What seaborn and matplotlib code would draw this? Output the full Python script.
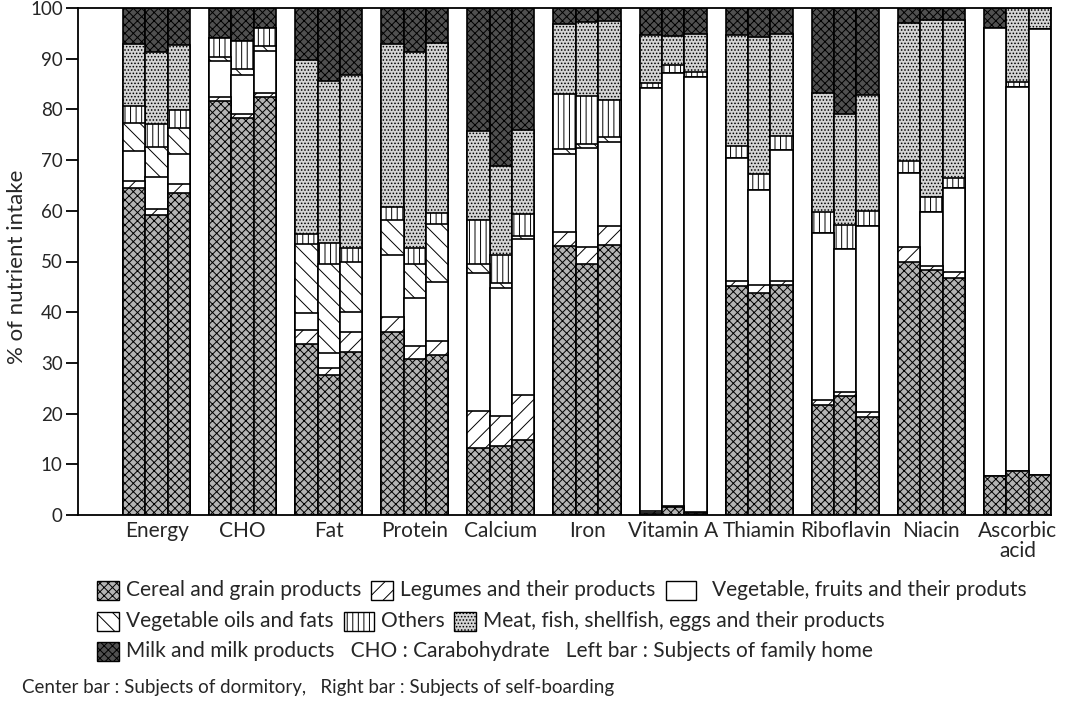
import numpy as np
import pandas as pd
import matplotlib
matplotlib.use("Agg")
import matplotlib.pyplot as plt
from matplotlib.patches import Rectangle
import seaborn as sns

# ---------------- data ----------------
nutrients = ["Energy", "CHO", "Fat", "Protein", "Calcium", "Iron", "Vitamin A",
             "Thiamin", "Riboflavin", "Niacin", "Ascorbic\nacid"]
groups = ["Left", "Center", "Right"]

# each list: 11 nutrients x 3 bars (left, center, right), % of intake
cereal = [64.5, 59.1, 63.5,  81.6, 78.3, 82.4,  33.7, 27.6, 32.2,  36.1, 30.8, 31.6,
          13.3, 13.6, 14.8,  53.0, 49.5, 53.2,  0.3, 1.5, 0.3,  45.1, 43.7, 45.4,
          21.7, 23.4, 19.4,  49.9, 48.3, 46.7,  7.6, 8.7, 7.9]
legumes = [1.3, 1.2, 1.8,  0.8, 0.8, 0.8,  2.7, 1.3, 3.9,  2.9, 2.6, 2.7,
           7.2, 6.0, 8.8,  2.8, 3.3, 3.8,  0.5, 0.2, 0.3,  1.1, 1.7, 0.8,
           1.0, 0.8, 1.0,  2.9, 0.8, 1.3,  0.0, 0.0, 0.0]
vegfruit = [6.0, 6.3, 5.9,  7.1, 7.7, 8.4,  3.5, 3.0, 4.0,  12.2, 9.4, 11.6,
            27.2, 25.1, 30.9,  15.5, 19.6, 16.6,  83.5, 85.5, 85.8,  24.3, 18.7, 25.8,
            33.0, 28.3, 36.7,  14.7, 10.6, 16.5,  88.4, 75.8, 87.9]
vegoils = [5.5, 5.9, 5.2,  0.8, 1.2, 1.0,  13.6, 17.6, 9.8,  7.0, 6.7, 11.5,
           1.8, 1.1, 0.6,  0.8, 0.8, 0.9,  0.0, 0.0, 0.0,  0.0, 0.0, 0.0,
           0.0, 0.0, 0.0,  0.0, 0.0, 0.0,  0.0, 0.0, 0.0]
others = [3.3, 4.6, 3.5,  3.7, 5.4, 3.5,  2.0, 4.1, 2.7,  2.5, 3.1, 2.1,
          8.7, 5.4, 4.2,  10.9, 9.4, 7.3,  0.9, 1.6, 1.0,  2.2, 3.1, 2.8,
          4.0, 4.7, 2.8,  2.4, 3.1, 1.9,  0.0, 1.0, 0.0]
meat = [12.3, 14.2, 12.9,  0.0, 0.0, 0.0,  34.3, 32.1, 34.2,  32.2, 38.8, 33.5,
        17.5, 17.6, 16.7,  13.9, 14.6, 15.6,  9.5, 5.7, 7.5,  22.0, 27.1, 20.1,
        23.5, 21.9, 22.9,  27.1, 34.8, 31.2,  0.0, 14.5, 4.2]
milk = [7.1, 8.7, 7.2,  6.0, 6.6, 3.9,  10.2, 14.3, 13.2,  7.1, 8.6, 7.0,
        24.3, 31.2, 24.0,  3.1, 2.8, 2.6,  5.3, 5.5, 5.1,  5.3, 5.7, 5.1,
        16.8, 20.9, 17.2,  3.0, 2.4, 2.4,  4.0, 0.0, 0.0]

layer_names = ["cereal", "legumes", "vegfruit", "vegoils", "others", "meat", "milk"]
layer_vals = [cereal, legumes, vegfruit, vegoils, others, meat, milk]

legend_rows = [
    [("cereal", "Cereal and grain products"), ("legumes", "Legumes and their products"),
     ("vegfruit", "Vegetable, fruits and their produts")],
    [("vegoils", "Vegetable oils and fats"), ("others", "Others"),
     ("meat", "Meat, fish, shellfish, eggs and their products")],
    [("milk", "Milk and milk products   CHO : Carabohydrate   Left bar : Subjects of family home")],
]
note_line = "Center bar : Subjects of dormitory,   Right bar : Subjects of self-boarding"

# ---------------- styles ----------------
styles = {
    "cereal":   dict(face="#b4b4b4", hatch="xxxx"),
    "legumes":  dict(face="white",   hatch="//"),
    "vegfruit": dict(face="white",   hatch=None),
    "vegoils":  dict(face="white",   hatch="\\\\"),
    "others":   dict(face="white",   hatch="|||"),
    "meat":     dict(face="#d4d4d4", hatch="....."),
    "milk":     dict(face="#505050", hatch="xxxx"),
}

sns.set_theme(style="white")
plt.rcParams["font.family"] = ["Lato", "DejaVu Sans"]
plt.rcParams["hatch.linewidth"] = 0.7
plt.rcParams["hatch.color"] = "black"

W, H = 1080, 703
fig = plt.figure(figsize=(W / 100, H / 100), dpi=100)
ax = fig.add_axes([78 / W, 1 - 515 / H, (1051 - 78) / W, (515 - 8) / H])

# long data frame with cumulative tops
rows = []
for i, n in enumerate(nutrients):
    for j, g in enumerate(groups):
        rec = {"nutrient": n, "group": g}
        cum = 0.0
        for name, vals in zip(layer_names, layer_vals):
            cum += vals[i * 3 + j]
            rec[name] = cum
        rows.append(rec)
df = pd.DataFrame(rows)

# draw from top layer down so that lower layers paint over
for name in reversed(layer_names):
    st = styles[name]
    n_before = len(ax.patches)
    sns.barplot(data=df, x="nutrient", y=name, hue="group", order=nutrients,
                hue_order=groups, palette=[st["face"]] * 3, width=0.78,
                edgecolor="black", linewidth=1.2, saturation=1, legend=False,
                errorbar=None, ax=ax)
    for p in ax.patches[n_before:]:
        if st["hatch"]:
            p.set_hatch(st["hatch"])

ax.set_xlim(-0.913, 10.39)
ax.set_ylim(0, 100)
ax.set_yticks(range(0, 101, 10))
ax.tick_params(axis="y", direction="out", length=9, width=1.3, labelsize=13.5,
               pad=2, left=True, color="black")
ax.tick_params(axis="x", length=0, labelsize=15, pad=4)
ax.set_xlabel("")
ax.set_ylabel("% of nutrient intake", fontsize=16)
ax.yaxis.set_label_coords(-0.052, 0.49)
for lab in ax.get_xticklabels():
    lab.set_verticalalignment("top")
    lab.set_linespacing(1.0)
for side in ["left", "bottom", "top", "right"]:
    ax.spines[side].set_visible(True)
    ax.spines[side].set_color("black")
    ax.spines[side].set_linewidth(1.3)
ax.grid(False)

# ---------------- legend (drawn in figure pixels) ----------------
def fx(x):
    return x / W

def fy(y):
    return 1 - y / H

fig.canvas.draw()
renderer = fig.canvas.get_renderer()

leg_fs = 15
row_y = [590, 621, 651]
sw_h = 19
for ry, items in zip(row_y, legend_rows):
    x = 97
    for key, label in items:
        st = styles[key]
        w = 30 if key in ("vegfruit", "others") else 22
        r = Rectangle((fx(x), fy(ry + sw_h / 2)), w / W, sw_h / H,
                      transform=fig.transFigure, facecolor=st["face"],
                      edgecolor="black", linewidth=1.0,
                      hatch=st["hatch"], figure=fig)
        fig.patches.append(r)
        x += w + (16 if key == "vegfruit" else 7)
        t = fig.text(fx(x), fy(ry), label, fontsize=leg_fs, va="center", ha="left")
        x += t.get_window_extent(renderer).width + 10

fig.text(fx(22), fy(688), note_line, fontsize=13.5, va="center", ha="left")

fig.savefig("out.png", dpi=100)
